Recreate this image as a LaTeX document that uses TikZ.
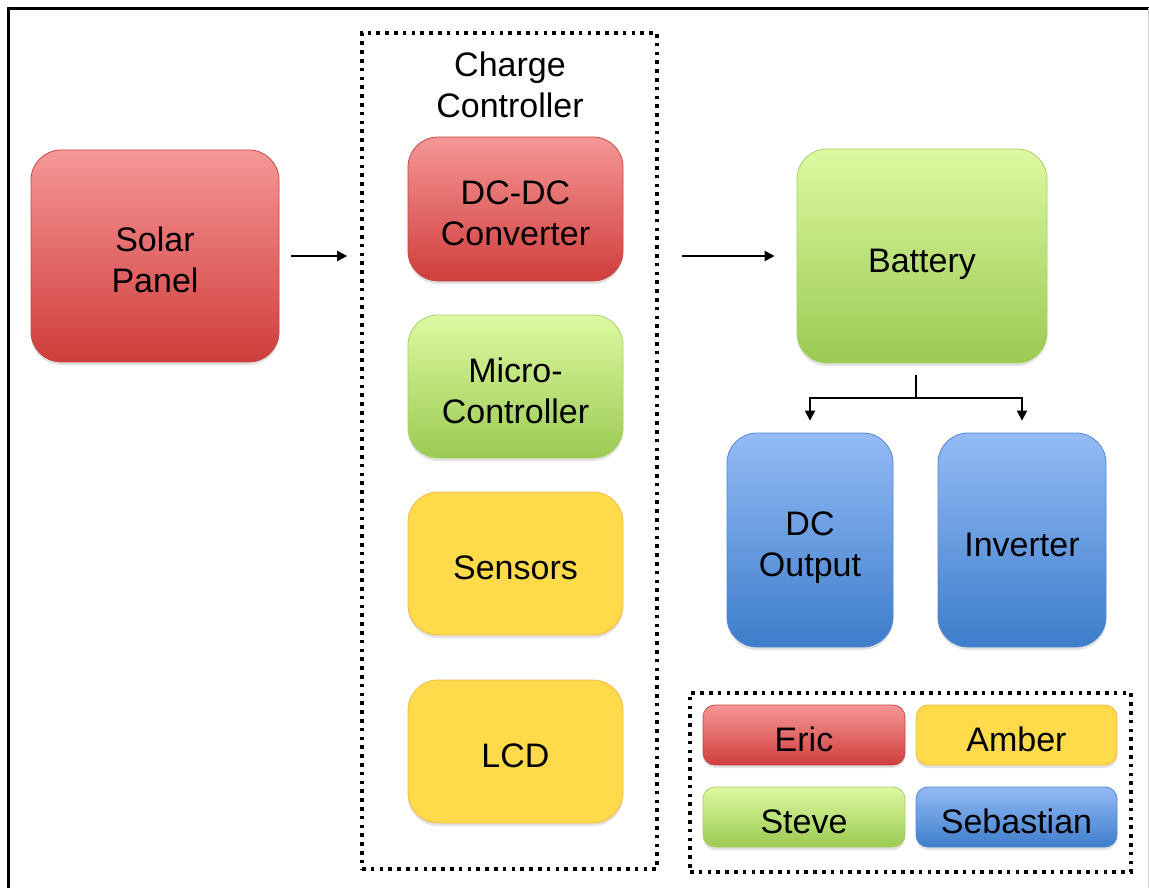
\documentclass[tikz,border=0pt]{standalone}
\usepackage{fontspec}
\setmainfont{Liberation Sans}
\usetikzlibrary{arrows.meta,shadows,calc}

\definecolor{redtop}{HTML}{F59796}
\definecolor{redbot}{HTML}{CF3D3C}
\definecolor{redline}{HTML}{C24A48}
\definecolor{greentop}{HTML}{DDF9A0}
\definecolor{greenbot}{HTML}{9BCA53}
\definecolor{greenline}{HTML}{A9CF6C}
\definecolor{yellowfill}{HTML}{FFDA4A}
\definecolor{yellowline}{HTML}{F5B84C}
\definecolor{bluetop}{HTML}{94BBF6}
\definecolor{bluebot}{HTML}{3D7DCB}
\definecolor{blueline}{HTML}{5487CC}

\begin{document}
\begin{tikzpicture}[x=1pt,y=-1pt,
  blk/.style={rounded corners=30pt, draw, line width=0.8pt, align=center,
    inner sep=0pt, text height=32pt, text depth=0pt,
    font=\fontsize{34}{41}\selectfont, text=black,
    drop shadow={shadow xshift=0pt, shadow yshift=-3pt, opacity=0.22}},
  twolines/.style={text height=73pt},
  tag/.style={blk, rounded corners=12pt},
  redblk/.style={draw=redline, top color=redtop, bottom color=redbot},
  greenblk/.style={draw=greenline, top color=greentop, bottom color=greenbot},
  yellowblk/.style={draw=yellowline, fill=yellowfill},
  blueblk/.style={draw=blueline, top color=bluetop, bottom color=bluebot},
  dotbox/.style={draw, line width=3.6pt, dash pattern=on 3.6pt off 5.2pt},
  conn/.style={line width=2.2pt, -{Triangle[length=10pt,width=10pt]}},
  wire/.style={line width=2.2pt},
  grouplabel/.style={font=\fontsize{34}{41}\selectfont, align=center, text=black}
]
\useasboundingbox (0,0) rectangle (1149,888);

% outer frame
\draw[line width=3pt] (8.5,888) -- (8.5,8.5) -- (1149,8.5);
\draw[black!18, line width=1pt] (1148,8.5) -- (1148,888);

% charge controller group
\node[dotbox, minimum width=295pt, minimum height=836pt, inner sep=0pt] (cc) at (509.5,451) {};
\node[grouplabel] (cclabel) at (510,85) {Charge\\Controller};

% blocks
\node[blk, twolines, redblk, minimum width=248pt, minimum height=212pt] (solar) at (155,256) {Solar\\Panel};
\node[blk, twolines, redblk, minimum width=215pt, minimum height=144pt] (dcdc) at (515.5,209) {DC-DC\\Converter};
\node[blk, twolines, greenblk, minimum width=215pt, minimum height=143pt] (micro) at (515.5,386.5) {Micro-\\Controller};
\node[blk, yellowblk, minimum width=215pt, minimum height=143pt] (sensors) at (515.5,563.5) {Sensors};
\node[blk, yellowblk, minimum width=215pt, minimum height=143pt] (lcd) at (515.5,751.5) {LCD};
\node[blk, greenblk, minimum width=250pt, minimum height=214pt] (battery) at (922,256) {Battery};
\node[blk, twolines, blueblk, minimum width=166pt, minimum height=214pt] (dcout) at (810,540) {DC\\Output};
\node[blk, blueblk, minimum width=168pt, minimum height=214pt] (inverter) at (1022,540) {Inverter};

% legend
\node[dotbox, minimum width=441pt, minimum height=179pt, inner sep=0pt] (legend) at (910.5,782.5) {};
\node[tag, redblk, minimum width=202pt, minimum height=60pt] (eric) at (804,735) {Eric};
\node[tag, yellowblk, minimum width=201pt, minimum height=60pt] (amber) at (1016.5,735) {Amber};
\node[tag, greenblk, minimum width=202pt, minimum height=60pt] (steve) at (804,817) {Steve};
\node[tag, blueblk, minimum width=201pt, minimum height=60pt] (sebastian) at (1016.5,817) {Sebastian};

% connectors
\draw[conn, shorten <=12pt, shorten >=13pt] (solar.east) -- (solar.east -| cc.west);
\draw[conn, shorten <=23pt, shorten >=22pt] (battery.west -| cc.east) -- (battery.west);
\coordinate (split) at (916,398);
\draw[wire] ($(battery.south -| split)+(0,12)$) -- (split);
\draw[conn, shorten >=12pt] (split) -| (dcout.north);
\draw[conn, shorten >=12pt] (split) -| (inverter.north);
\end{tikzpicture}
\end{document}
